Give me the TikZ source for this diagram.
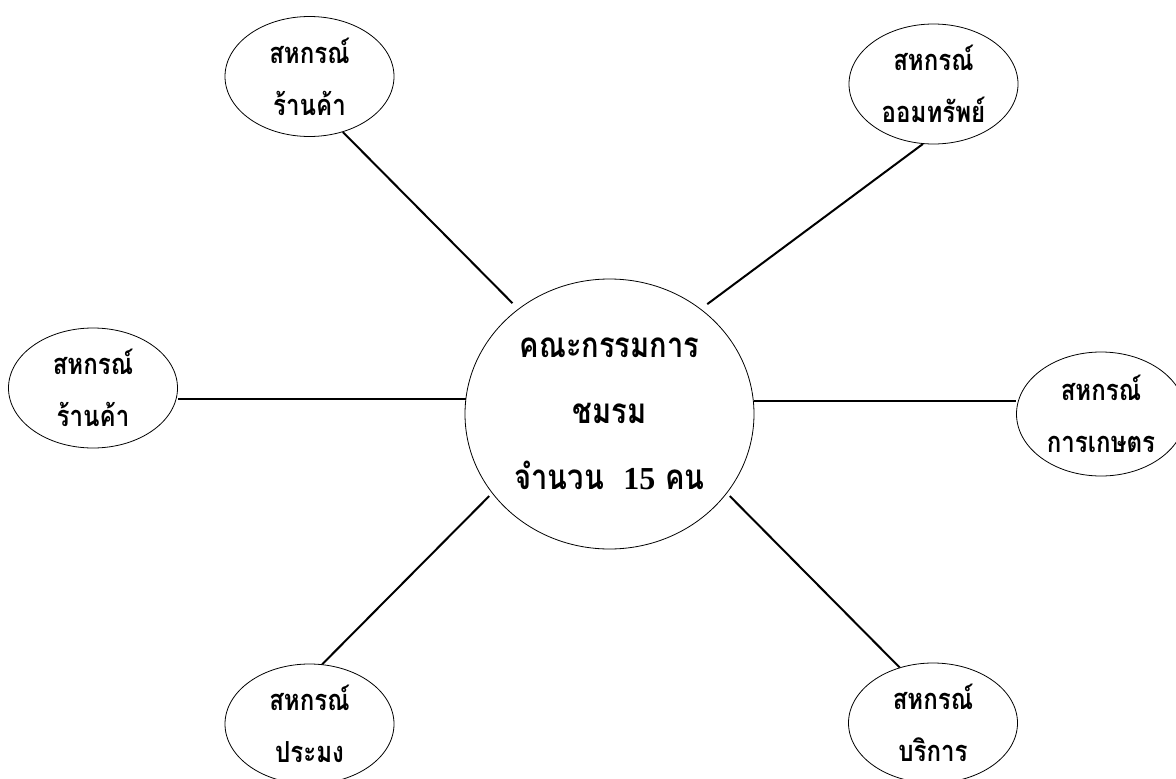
\documentclass[tikz,border=0pt]{standalone}
\usepackage{fontspec}
\newfontfamily\thai[Script=Thai, FakeStretch=0.83]{Loma}
\newfontfamily\ser{Liberation Serif}
\usetikzlibrary{shapes.geometric}
\begin{document}
\begin{tikzpicture}[x=1pt,y=-1pt,
  bub/.style={ellipse, draw, line width=0.8pt, inner sep=0pt,
    minimum width=169pt, minimum height=120pt, align=center,
    font=\thai\bfseries\fontsize{29}{52}\selectfont},
  hub/.style={ellipse, draw, line width=0.8pt, inner sep=0pt,
    minimum width=289pt, minimum height=270pt, align=center,
    font=\thai\bfseries\fontsize{35}{66}\selectfont},
  link/.style={line width=2pt}]
\useasboundingbox (0,0) rectangle (1176,779);
\node[hub] (c) at (609.5,414) {คณะกรรมการ\\ชมรม\\จำนวน\ \ {\ser\fontsize{32}{66}\selectfont 15} คน};
\node[bub] (e1) at (309.5,76.5) {สหกรณ์\\ร้านค้า};
\node[bub] (e2) at (933.5,84) {สหกรณ์\\ออมทรัพย์};
\node[bub] (e3) at (93,388) {สหกรณ์\\ร้านค้า};
\node[bub, minimum height=124pt] (e4) at (1101,414) {สหกรณ์\\การเกษตร};
\node[bub] (e5) at (309.5,724) {สหกรณ์\\ประมง};
\node[bub] (e6) at (933,723) {สหกรณ์\\บริการ};
\draw[link, shorten <=8pt] (c.131) -- (e1.-59);
\draw[link, shorten <=8pt] (c.49) -- (e2.-100.5);
\draw[link] (c.174.5) -- (c.174.5 -| e3.east);
\draw[link] (c.5.5) -- (c.5.5 -| e4.west);
\draw[link, shorten <=4pt] (c.214.8) -- (e5.78);
\draw[link, shorten <=4pt] (c.-34.6) -- (e6.121);
\end{tikzpicture}
\end{document}
